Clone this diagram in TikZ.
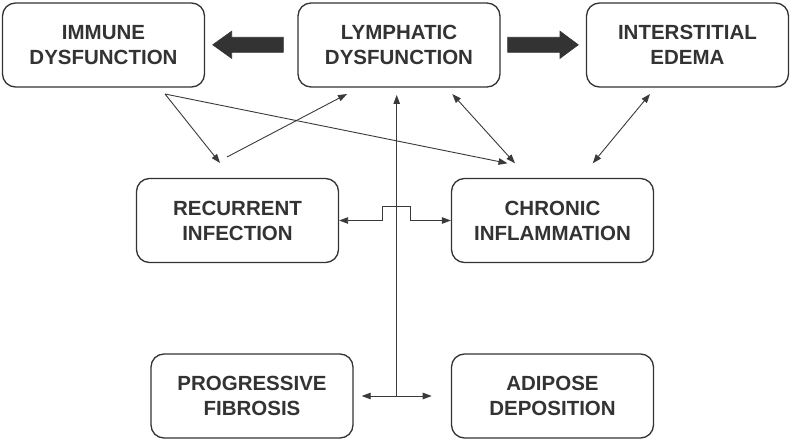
\documentclass[tikz,border=0pt]{standalone}
\usepackage{fontspec}
\setmainfont{Liberation Sans}
\usetikzlibrary{arrows.meta}
\definecolor{ink}{HTML}{333333}
\definecolor{lineink}{HTML}{3A3A3A}
\begin{document}
\begin{tikzpicture}[x=1pt,y=-1pt,
  box/.style={draw=ink,line width=1.3pt,rounded corners=13pt,minimum width=202pt,minimum height=84pt,
    align=center,inner sep=0pt,text=ink,font=\bfseries\fontsize{20.5}{25}\selectfont},
  conn/.style={draw=lineink,line width=0.9pt},
  tipend/.style={-{Triangle[length=9pt,width=6.5pt]}},
  tipboth/.style={{Triangle[length=9pt,width=6.5pt]}-{Triangle[length=9pt,width=6.5pt]}},
  bigarrow/.style={fill=ink,draw=ink,line width=0.6pt,line join=miter}
]
\useasboundingbox (0,0) rectangle (792,441);
\fill[white] (0,0) rectangle (792,441);

\node[box] (immune)  at (103.5,45)  {IMMUNE\\DYSFUNCTION};
\node[box] (lymph)   at (399,45)    {LYMPHATIC\\DYSFUNCTION};
\node[box] (edema)   at (687.5,45)  {INTERSTITIAL\\EDEMA};
\node[box] (recur)   at (237.5,220.5) {RECURRENT\\INFECTION};
\node[box] (chronic) at (552.5,220.5) {CHRONIC\\INFLAMMATION};
\node[box] (fib)     at (252,396)   {PROGRESSIVE\\FIBROSIS};
\node[box] (adip)    at (552.5,396) {ADIPOSE\\DEPOSITION};

% thick arrows
\draw[bigarrow] (283.3,37.3) -- (231.7,37.3) -- (231.7,31.2) -- (212.7,44.8) -- (231.7,58.4) -- (231.7,52.3) -- (283.3,52.3) -- cycle;
\draw[bigarrow] (507.7,37.3) -- (560,37.3) -- (560,31.2) -- (578.3,44.8) -- (560,58.4) -- (560,52.3) -- (507.7,52.3) -- cycle;

% coordinates for free ends
\coordinate (iA) at (165,94);
\coordinate (rT) at (220,163);
\coordinate (cT1) at (507.5,163.3);
\coordinate (rS) at (227,157);
\coordinate (lT) at (347,94);
\coordinate (lB) at (452.3,94);
\coordinate (cT2) at (515,163.3);
\coordinate (eB) at (650,94);
\coordinate (cT3) at (592.7,163.3);
\coordinate (vB) at (396.7,396);
\coordinate (vT) at (396.7,95);
\coordinate (fT) at (361.7,396);
\coordinate (aT) at (431.7,396);

\draw[conn,tipend] (iA) -- (rT);
\draw[conn,tipend] (iA) -- (cT1);
\draw[conn,tipend] (rS) -- (lT);
\draw[conn,tipboth] (lB) -- (cT2);
\draw[conn,tipboth] (eB) -- (cT3);
\draw[conn,tipend] (vB) -- (vT);
\draw[conn,tipboth] (fT) -- (aT);
\draw[conn,tipboth] (recur.east) -- (382.7,220.5) -- (382.7,206) -- (410,206) -- (410,220.5) -- (chronic.west);
\end{tikzpicture}
\end{document}
